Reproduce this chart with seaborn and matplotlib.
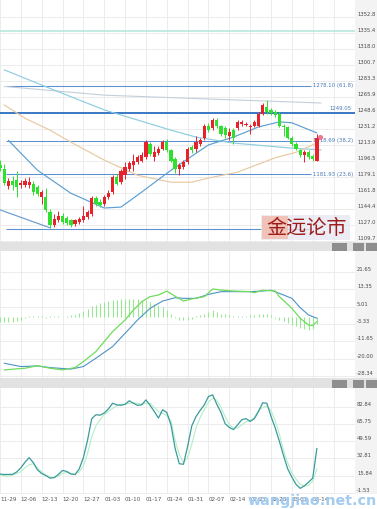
import numpy as np
import matplotlib
matplotlib.use("Agg")
import matplotlib.pyplot as plt
import seaborn as sns
from matplotlib.patches import Rectangle

# ---------------- data ----------------
week_labels = ["11-29", "12-06", "12-13", "12-20", "12-27", "01-03", "01-10", "01-17",
               "01-24", "01-31", "02-07", "02-14", "02-21", "02-28", "03-07", "03-14", ""]

opens = [1192, 1188, 1169, 1175, 1176, 1170, 1171, 1170, 1172, 1168,
         1157, 1157, 1141, 1127, 1132, 1137, 1135, 1132, 1128, 1130,
         1132, 1136, 1139, 1156, 1152, 1150, 1157, 1163, 1179, 1174,
         1181, 1188, 1192, 1195, 1197, 1201, 1215, 1201, 1205, 1210,
         1217, 1208, 1199, 1188, 1190, 1195, 1212, 1210, 1215, 1221,
         1235, 1232, 1241, 1234, 1232, 1224, 1230, 1232, 1237, 1236,
         1233, 1235, 1235, 1248, 1255, 1252, 1250, 1248, 1235, 1233,
         1222, 1215, 1208, 1203, 1206, 1202, 1197]
highs = [1198, 1193, 1178, 1180, 1186, 1176, 1178, 1179, 1175, 1170,
         1165, 1167, 1144, 1139, 1142, 1140, 1137, 1134, 1134, 1136,
         1148, 1143, 1159, 1158, 1155, 1160, 1165, 1181, 1182, 1188,
         1195, 1197, 1204, 1203, 1206, 1219, 1217, 1213, 1213, 1219,
         1220, 1210, 1201, 1194, 1198, 1212, 1214, 1224, 1222, 1237,
         1238, 1243, 1243, 1236, 1234, 1232, 1232, 1241, 1241, 1239,
         1237, 1241, 1250, 1259, 1263, 1254, 1252, 1250, 1237, 1235,
         1224, 1217, 1210, 1208, 1208, 1204, 1226]
lows = [1186, 1170, 1166, 1165, 1157, 1167, 1168, 1167, 1160, 1158,
        1150, 1141, 1124, 1125, 1130, 1128, 1127, 1125, 1126, 1128,
        1130, 1134, 1137, 1148, 1147, 1148, 1155, 1161, 1170, 1172,
        1177, 1186, 1186, 1193, 1195, 1199, 1202, 1197, 1203, 1208,
        1206, 1195, 1183, 1181, 1188, 1193, 1205, 1206, 1213, 1219,
        1228, 1230, 1232, 1224, 1222, 1219, 1215, 1230, 1235, 1234,
        1226, 1233, 1233, 1246, 1248, 1247, 1244, 1233, 1224, 1220,
        1213, 1208, 1201, 1195, 1199, 1197, 1196]
closes = [1189, 1173, 1175, 1170, 1168, 1173, 1175, 1174, 1163, 1161,
          1163, 1143, 1127, 1134, 1137, 1130, 1129, 1127, 1132, 1134,
          1137, 1141, 1156, 1150, 1149, 1157, 1162, 1179, 1172, 1186,
          1190, 1194, 1197, 1201, 1203, 1217, 1204, 1206, 1210, 1217,
          1208, 1197, 1188, 1192, 1195, 1210, 1208, 1217, 1219, 1235,
          1230, 1241, 1234, 1226, 1225, 1228, 1222, 1239, 1239, 1237,
          1235, 1239, 1248, 1257, 1250, 1249, 1246, 1235, 1233, 1222,
          1215, 1210, 1203, 1206, 1201, 1199, 1222]
last_marker_price = 1222.9

# moving-average style overlays (read at selected days)
ma_gray_x = [1, 25, 49, 77]
ma_gray_y = [1277.5, 1268.0, 1264.0, 1259.5]
ma_cyan_x = [1, 13, 25, 33, 41, 47, 56, 70, 77]
ma_cyan_y = [1295.5, 1273.5, 1252.0, 1241.0, 1230.0, 1222.5, 1216.0, 1210.5, 1208.5]
ma_blue_x = [2, 9, 17, 25, 29, 33, 41, 50, 56, 62, 67, 70, 76]
ma_blue_y = [1219.0, 1186.5, 1161.5, 1145.5, 1146.5, 1159.5, 1186.5, 1214.0, 1222.5,
             1233.5, 1239.0, 1238.0, 1227.0]
ma_tan_x = [1, 6, 12, 17, 25, 33, 41, 46, 50, 57, 66, 71, 76]
ma_tan_y = [1257.5, 1243.0, 1230.0, 1217.0, 1197.5, 1181.0, 1173.5, 1173.5, 1178.0,
            1184.5, 1200.0, 1206.0, 1216.0]
trend_x = [0, 12]
trend_y = [1143.5, 1124.0]

mint_level = 1337.6
res_level = 1249.05
fib_levels = [1278.10, 1218.69, 1181.93, 1122.52]
fib_texts = ["1278.10 (61.8)", "1218.69 (38.2)", "1181.93 (23.6)", ""]

price_ticks = [1352.8, 1335.4, 1318.0, 1300.7, 1283.3, 1265.9, 1248.6, 1231.2,
               1213.9, 1196.5, 1179.1, 1161.8, 1144.4, 1127.0, 1109.7]

# MACD
macd_x = [1, 6, 9, 12, 15, 18, 20, 23, 25, 27, 30, 32, 34, 36, 38, 40, 42, 44, 46,
          49, 51, 53, 56, 60, 61, 63, 66, 67, 70, 72, 74, 75, 76]
macd_y = [-25.4, -24.6, -23.4, -24.6, -25.4, -24.3, -21.4, -16.6, -11.8, -7.0, -1.4,
          3.4, 7.4, 9.8, 10.6, 12.5, 10.0, 7.7, 8.7, 9.8, 13.5, 13.0, 12.5, 12.2, 11.7,
          12.9, 12.5, 9.8, 4.2, -0.6, -3.8, -4.1, -2.2]
signal_x = [1, 5, 9, 12, 17, 20, 23, 27, 30, 33, 36, 39, 42, 44, 47, 50, 53, 56, 60,
            63, 65, 67, 70, 72, 74, 76]
signal_y = [-22.2, -23.8, -23.5, -24.3, -25.0, -23.8, -19.8, -14.2, -7.8, -1.4, 4.2,
            7.7, 9.3, 9.0, 9.0, 10.9, 12.2, 12.2, 12.2, 12.5, 12.9, 11.4, 9.0, 4.5, 1.0, -0.6]
hist = [-2.5, -2.5, -2.5, -2.2, -1.8, -1.2, -0.6, 0.3, 0.3, 0.5,
        0.3, -0.3, 0.3, 0.5, 0.3, 0.2, 0.5, 0.8, 1.0, 1.9,
        2.9, 4.0, 5.2, 6.0, 6.8, 7.3, 7.7, 8.1, 8.4, 8.5,
        8.7, 8.9, 8.9, 8.7, 8.4, 8.1, 7.3, 6.1, 5.6, 4.8,
        3.2, 1.6, -0.3, -1.3, -1.6, -1.3, -0.8, 0.3, 0.8, 1.6,
        2.4, 3.2, 2.4, 1.6, 1.3, 0.8, 0.6, 0.3, 0.5, 0.6,
        0.8, 1.1, 1.5, 1.6, 1.5, 0.8, -0.3, -1.3, -2.1, -2.9,
        -3.7, -4.5, -5.2, -5.6, -6.1, -5.6, -3.2]
macd_ticks = [21.65, 13.35, 5.01, -3.33, -11.65, -20.00, -28.34]
macd_labels = ["21.65", "13.35", "5.01", "-3.33", "-11.65", "-20.00", "-28.34"]

# Stochastic
stoch_k = [17, 16.5, 16.6, 16.6, 19, 23, 28.5, 33, 28, 21,
           17.5, 15.5, 13, 13.5, 16.6, 20.5, 19.5, 17, 16.5, 22,
           33, 50, 71, 74.8, 74.4, 76.5, 80.5, 86, 84.5, 84,
           85, 88.4, 86, 84, 84.5, 89.3, 84, 78, 71.6, 79.7,
           77, 65, 42, 27, 26.5, 44, 64, 73, 79, 84.5,
           92.6, 94.2, 85, 77, 66, 62.5, 60.3, 65, 70, 71,
           68.3, 71, 78, 86.5, 86, 73.2, 62, 49, 35, 22,
           14, 6.9, 3.0, 5.5, 9, 13, 42]
stoch_d = [16, 15.5, 15, 16, 17.5, 19.2, 23, 26, 27, 23,
           19, 16, 14, 13.5, 15, 17.5, 18.5, 17.5, 17, 19,
           25, 37, 53, 64, 70, 75, 78, 81, 83.5, 85,
           85, 86, 86.5, 86, 85, 86, 86, 82, 78, 76,
           74, 69, 50, 36, 28, 33, 46, 62, 72, 80,
           87, 91, 89, 82, 73, 65, 62, 62, 65, 68,
           69, 72, 79, 82, 83, 79, 69, 56, 40, 28,
           18, 12, 7, 5, 6, 10, 22]
stoch_ticks = [82.84, 65.97, 49.09, 32.22, 15.34, -1.53]
stoch_labels = ["82.84", "65.75", "49.59", "32.81", "15.84", "-1.53"]

# ---------------- style ----------------
sns.set_theme(style="white")
plt.rcParams["font.family"] = ["DejaVu Sans"]

W, H = 377, 509
fig = plt.figure(figsize=(W / 100, H / 100), dpi=100)
fig.patch.set_facecolor("white")


def fr(x0, y0, x1, y1):
    return [x0 / W, 1 - y1 / H, (x1 - x0) / W, (y1 - y0) / H]


ax1 = fig.add_axes(fr(0, 0, 355, 242))
ax2 = fig.add_axes(fr(0, 251, 355, 378))
ax3 = fig.add_axes(fr(0, 388, 355, 494))

days = np.arange(len(opens))
week_pos = np.arange(0, 5 * len(week_labels), 5)
XL = (1.415, 85.14)
grid_c = "#e9e9e9"

# right label column and separators
for (y0, y1) in [(0, 242), (251, 378), (388, 494)]:
    fig.patches.append(Rectangle((355 / W, 1 - y1 / H), 22 / W, (y1 - y0) / H,
                                 transform=fig.transFigure, facecolor="#f3f3f3",
                                 edgecolor="none", zorder=-2))
for (y0, y1) in [(242, 251), (378, 388)]:
    fig.patches.append(Rectangle((0, 1 - y1 / H), 1, (y1 - y0) / H,
                                 transform=fig.transFigure, facecolor="#e2e2e2",
                                 edgecolor="none", zorder=-1))
    for (bx0, bx1) in [(332, 347), (353, 364), (366, 377)]:
        fig.patches.append(Rectangle((bx0 / W, 1 - (y1 - 0.5) / H), (bx1 - bx0) / W,
                                     (y1 - y0 - 2) / H, transform=fig.transFigure,
                                     facecolor="#8e8e8e", edgecolor="none", zorder=-1))

for ax in (ax1, ax2, ax3):
    ax.set_facecolor("white")
    for s in ax.spines.values():
        s.set_visible(False)
    ax.set_xlim(*XL)
    ax.set_xticks(week_pos)
    ax.grid(True, color=grid_c, linewidth=0.6)
    ax.set_axisbelow(True)
    ax.yaxis.tick_right()
    ax.tick_params(axis="y", length=0, pad=1.5, labelsize=3.8, labelcolor="#4a4a4a",
                   left=False, right=False, labelleft=False, labelright=True)
    ax.tick_params(axis="x", length=0, labelbottom=False)

# ---------------- price panel ----------------
ax1.set_ylim(1108.6, 1371.3)
ax1.set_yticks(price_ticks)
ax1.set_yticklabels([f"{v:.1f}" for v in price_ticks])

ax1.axhline(mint_level, color="#b3e6d8", linewidth=1.1, zorder=2)
ax1.axhline(res_level, color="#3a78c4", linewidth=1.4, zorder=2)
ax1.hlines(fib_levels, XL[0], 74.5, color="#5b8fcf", linewidth=0.75, zorder=2)
for lv, tx in zip(fib_levels, fib_texts):
    if tx:
        ax1.text(75.0, lv, tx, fontsize=3.9, color="#4a78b8", va="center", ha="left", zorder=3)
ax1.text(84.2, res_level + 1.5, f"{res_level:.2f}", fontsize=3.9, color="#4a78b8",
         va="bottom", ha="right", zorder=3)

sns.lineplot(x=ma_gray_x, y=ma_gray_y, ax=ax1, color="#c3cfdb", linewidth=0.8, zorder=2)
sns.lineplot(x=ma_cyan_x, y=ma_cyan_y, ax=ax1, color="#8fcde0", linewidth=0.85, zorder=2)
sns.lineplot(x=ma_tan_x, y=ma_tan_y, ax=ax1, color="#e9c9a2", linewidth=0.85, zorder=2)
sns.lineplot(x=ma_blue_x, y=ma_blue_y, ax=ax1, color="#5c9fd2", linewidth=0.85, zorder=2)
sns.lineplot(x=trend_x, y=trend_y, ax=ax1, color="#6a9ccc", linewidth=0.85, zorder=2)

o = np.array(opens, float)
c = np.array(closes, float)
up = c >= o
cols = np.where(up, "#e8222a", "#2fe02f")
ax1.vlines(days, lows, highs, colors=cols, linewidth=0.7, zorder=4)
body = np.maximum(np.abs(c - o), 0.9)
ax1.bar(days, body, bottom=np.minimum(o, c), width=0.78, color=cols, linewidth=0, zorder=5)
ax1.scatter([days[-1] + 0.7], [last_marker_price], s=9, color="#f07a90",
            edgecolor="#e84a6a", linewidth=0.4, zorder=6)

# watermark logo
ax1.add_patch(Rectangle((62.5, 1110.5), 21.5, 27, facecolor="#e6e8f2", edgecolor="none",
                        alpha=0.8, zorder=6))
ax1.add_patch(Rectangle((62.8, 1111.5), 6.3, 25, facecolor="#f2bfb2", edgecolor="none",
                        alpha=0.9, zorder=6))
ax1.text(73.6, 1123.5, "金远论市", family=["Noto Sans CJK SC", "DejaVu Sans"],
         fontsize=14.5, color="#9e1b1b", ha="center", va="center", zorder=7)

# ---------------- MACD panel ----------------
ax2.set_ylim(-29.3, 31.75)
ax2.set_yticks(macd_ticks)
ax2.set_yticklabels(macd_labels)
ax2.vlines(days, 0, hist, colors="#93e98f", linewidth=0.75, zorder=2)
sns.lineplot(x=signal_x, y=signal_y, ax=ax2, color="#4f92c6", linewidth=0.8, zorder=3)
sns.lineplot(x=macd_x, y=macd_y, ax=ax2, color="#6fdc5c", linewidth=0.9, zorder=3)

# ---------------- Stochastic panel ----------------
ax3.set_ylim(-2.5, 100.9)
ax3.set_yticks(stoch_ticks)
ax3.set_yticklabels(stoch_labels)
sns.lineplot(x=days, y=stoch_d, ax=ax3, color="#b4efc4", linewidth=0.8, zorder=2)
sns.lineplot(x=days, y=stoch_k, ax=ax3, color="#3b9a9c", linewidth=0.9, zorder=3)
ax3.set_xticklabels(week_labels)
ax3.tick_params(axis="x", labelbottom=True, labelsize=4.1, labelcolor="#555555", pad=2.5)
for lab in ax3.get_xticklabels():
    lab.set_ha("left")

for ax in (ax1, ax2, ax3):
    for lab in ax.get_yticklabels():
        lab.set_va("bottom")
    ax.set_xlabel("")
    ax.set_ylabel("")
    if ax.get_legend():
        ax.get_legend().remove()

fig.text(377 / W, 1 - 501 / H, "wangjiao.net.cn", fontsize=10.3, weight="bold",
         color="#a4cbf0", ha="right", va="center", zorder=10)

fig.savefig("out.png", dpi=100)
